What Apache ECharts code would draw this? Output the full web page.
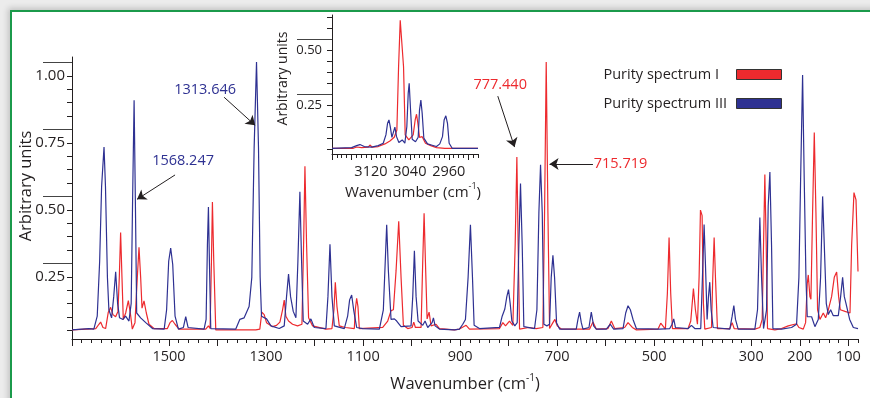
<!DOCTYPE html>
<html>
<head>
<meta charset="utf-8">
<script src="https://cdn.jsdelivr.net/npm/echarts@6/dist/echarts.min.js"></script>
<style>
  html, body { margin: 0; padding: 0; background: #ececec; }
  #frame {
    position: absolute; left: 10px; top: 10px; width: 900px; height: 420px;
    background: #fff; border-left: 2px solid #1b9a4b; border-top: 2px solid #1b9a4b;
    box-shadow: -2px -2px 6px rgba(0,0,0,0.18);
  }
  #main { position: absolute; left: 0; top: 0; width: 870px; height: 398px; }
</style>
</head>
<body>
<div id="frame"></div>
<div id="main"></div>
<script>
// 光谱数据 [波数, 强度]
var spectrumI = [
  [1700,0.052],[1651,0.057],[1644.5,0.073],[1641,0.081],[1636.2,0.061],[1630.7,0.057],[1625.2,0.118],[1620.4,0.136],
  [1615.6,0.109],[1610.1,0.101],[1605.3,0.121],[1602.5,0.248],[1599.8,0.415],[1597,0.248],[1594.3,0.091],[1589.4,0.115],
  [1583.9,0.161],[1579.8,0.115],[1575.7,0.055],[1570.2,0.079],[1565.4,0.248],[1561.9,0.360],[1558.5,0.248],[1555.7,0.133],
  [1551.6,0.160],[1546.8,0.115],[1541.3,0.073],[1531,0.057],[1503.4,0.057],[1498,0.079],[1493.1,0.087],[1487.6,0.073],
  [1479.4,0.055],[1424.3,0.055],[1418.8,0.067],[1415.4,0.057],[1412.6,0.308],[1410.6,0.529],[1407.8,0.308],[1403.7,0.052],
  [1321.1,0.052],[1312.9,0.055],[1308.7,0.118],[1303.9,0.109],[1299.1,0.079],[1286.7,0.064],[1278.4,0.069],[1271.5,0.081],
  [1266,0.127],[1262.6,0.163],[1259.2,0.103],[1253.7,0.085],[1245.4,0.073],[1235.1,0.067],[1226.1,0.073],[1222.7,0.369],
  [1219.9,0.662],[1216.5,0.369],[1212.4,0.097],[1204.1,0.067],[1176.6,0.055],[1164.2,0.057],[1160.1,0.127],[1157.3,0.230],
  [1153.9,0.139],[1149.1,0.067],[1143.6,0.064],[1136.7,0.061],[1118.1,0.057],[1116.1,0.127],[1113.3,0.170],[1110.6,0.139],
  [1107.8,0.057],[1059.6,0.061],[1049.3,0.085],[1042.4,0.124],[1037.6,0.127],[1032.1,0.272],[1026.6,0.457],[1021.8,0.248],
  [1017,0.069],[1008.1,0.057],[999.1,0.061],[995.6,0.081],[992.2,0.061],[980.5,0.061],[977.1,0.308],[974.3,0.487],
  [971.6,0.308],[968.1,0.093],[964,0.118],[959.9,0.067],[949.6,0.073],[942.7,0.057],[911.7,0.052],[901.5,0.055],
  [887.7,0.069],[880.8,0.055],[818.9,0.057],[812,0.079],[806.5,0.067],[798.3,0.085],[791.4,0.069],[786.6,0.369],
  [783.1,0.697],[780.4,0.369],[777.6,0.055],[758.4,0.061],[743.2,0.057],[729.5,0.061],[726,0.490],[722.6,1.051],
  [719.1,0.490],[715.7,0.057],[708.8,0.079],[704.7,0.091],[699.9,0.067],[691.6,0.055],[633.1,0.055],[626.3,0.081],
  [619.4,0.055],[595.3,0.057],[588.4,0.085],[581.5,0.057],[560.9,0.061],[554,0.079],[545.1,0.061],[536.8,0.052],
  [492.1,0.055],[486.6,0.077],[482.5,0.079],[477,0.055],[472.9,0.188],[469.4,0.397],[466,0.188],[462.5,0.057],
  [430.2,0.057],[424.7,0.085],[419.2,0.206],[415.1,0.127],[410.9,0.073],[407.5,0.248],[404.7,0.499],[401.3,0.478],
  [398.6,0.151],[395.8,0.055],[382,0.061],[379.3,0.248],[376.5,0.397],[373.8,0.248],[369.7,0.057],[344.2,0.057],
  [339.4,0.079],[335.3,0.057],[292.6,0.055],[282.3,0.061],[277.5,0.091],[274.7,0.369],[272,0.632],[269.2,0.369],
  [266.5,0.057],[251.3,0.052],[237.6,0.057],[223.8,0.067],[206.6,0.075],[201.8,0.061],[192.8,0.055],[188,0.079],
  [184.6,0.224],[182.5,0.257],[179.1,0.176],[177,0.166],[173.6,0.490],[170.1,0.788],[166.7,0.490],[163.3,0.127],
  [158.4,0.091],[151.6,0.115],[146.7,0.097],[141.2,0.127],[134.4,0.176],[128.9,0.248],[124.0,0.268],[119.9,0.176],
  [116.5,0.127],[106.8,0.121],[96.5,0.115],[93.1,0.369],[88.3,0.564],[84.1,0.537],[80,0.270]
];
var spectrumIII = [
  [1700,0.052],[1665,0.057],[1655,0.055],[1648,0.103],[1643,0.308],[1639,0.586],[1634,0.734],[1631,0.586],
  [1627,0.248],[1624,0.127],[1618.4,0.097],[1614,0.176],[1610,0.269],[1606,0.151],[1602,0.097],[1595,0.091],
  [1589.5,0.103],[1582.6,0.085],[1578,0.151],[1575,0.550],[1572,0.909],[1569.5,0.550],[1566.7,0.115],[1558.5,0.097],
  [1548,0.079],[1534,0.057],[1510,0.055],[1505,0.127],[1500.7,0.308],[1496.6,0.357],[1492.4,0.296],[1487.6,0.103],
  [1480.7,0.055],[1470.4,0.061],[1465.6,0.101],[1460.8,0.061],[1427.8,0.055],[1423.6,0.091],[1420.9,0.369],[1418.8,0.510],
  [1416.8,0.308],[1414,0.057],[1362.4,0.055],[1354.2,0.091],[1345.2,0.097],[1335,0.139],[1329.4,0.248],[1324.6,0.731],
  [1319.7,1.051],[1315.6,0.731],[1312.2,0.248],[1309.4,0.103],[1307.3,0.109],[1299,0.093],[1290,0.067],[1272.9,0.057],
  [1262.6,0.067],[1257.8,0.176],[1253.7,0.260],[1249.5,0.176],[1244,0.121],[1238.5,0.097],[1234.4,0.308],[1230.3,0.567],
  [1226.8,0.308],[1223.4,0.085],[1214.4,0.073],[1207.6,0.093],[1200.7,0.061],[1176.6,0.057],[1172.5,0.176],[1168.3,0.371],
  [1164.2,0.176],[1159.4,0.067],[1138.8,0.057],[1131.9,0.103],[1127.8,0.164],[1123.6,0.182],[1119.5,0.127],[1113.3,0.061],
  [1100.9,0.057],[1066.5,0.055],[1058.3,0.127],[1054.1,0.320],[1051.4,0.444],[1047.9,0.272],[1042.4,0.091],[1035.6,0.093],
  [1030.8,0.085],[1021.8,0.064],[1001.2,0.067],[997.7,0.176],[994.3,0.347],[990.8,0.176],[986.7,0.085],[977.1,0.069],
  [972.3,0.085],[966.8,0.061],[957.8,0.079],[955.1,0.097],[951.6,0.067],[942.7,0.055],[911.7,0.052],[901.5,0.055],
  [894.6,0.073],[889.1,0.091],[883.6,0.248],[878.8,0.444],[874.6,0.248],[871.2,0.069],[860.2,0.057],[818.9,0.061],
  [813.4,0.103],[807.9,0.130],[803.8,0.176],[800.3,0.202],[796.9,0.151],[793.4,0.085],[787.3,0.067],[782.4,0.079],
  [779,0.369],[775.6,0.598],[772.1,0.369],[768.7,0.064],[746.7,0.057],[741.8,0.127],[737.7,0.490],[734.3,0.668],
  [730.8,0.490],[727.4,0.073],[721.2,0.067],[715.7,0.073],[712.3,0.248],[708.8,0.330],[705.4,0.248],[701.3,0.079],
  [695.1,0.055],[660.7,0.055],[657.2,0.091],[653.8,0.118],[650.3,0.079],[646.9,0.055],[634.5,0.061],[629.7,0.118],
  [624.9,0.067],[619.4,0.055],[598.7,0.055],[590.5,0.073],[583.6,0.055],[564.3,0.057],[558.8,0.115],[554,0.142],
  [549.2,0.127],[543.7,0.091],[536.8,0.057],[488.7,0.055],[485.2,0.057],[468,0.057],[463.2,0.073],[459.8,0.093],
  [456.3,0.061],[430.2,0.057],[423.3,0.069],[416.4,0.057],[404.1,0.057],[400.6,0.248],[397.2,0.445],[394.4,0.296],
  [391,0.091],[388.2,0.176],[385.5,0.230],[382.7,0.127],[378.6,0.061],[344.2,0.055],[339.4,0.103],[335.9,0.143],
  [332.5,0.091],[327,0.055],[292.6,0.055],[287.1,0.127],[282.3,0.471],[278.8,0.248],[274.7,0.057],[268.5,0.127],
  [265.1,0.514],[261.6,0.641],[258.2,0.369],[255.4,0.057],[237.6,0.055],[216.9,0.061],[206.6,0.073],[201.8,0.248],
  [198.3,0.610],[194.2,1.003],[190.8,0.610],[187.3,0.248],[184.6,0.101],[175.6,0.101],[168.8,0.064],[161.9,0.091],
  [157.1,0.248],[152.9,0.550],[148.8,0.544],[145.4,0.151],[141.2,0.109],[136.4,0.127],[130.9,0.105],[120.6,0.105],
  [115.8,0.176],[111.7,0.248],[108.2,0.176],[104.8,0.151],[101.3,0.157],[97.2,0.091],[89.6,0.061],[80,0.057]
];
// 插图 (C-H 区域)
var insetI = [
  [3200,0.053],[3156.2,0.053],[3149.4,0.059],[3139.1,0.056],[3125.5,0.058],[3122.1,0.068],[3117.3,0.058],[3105,0.061],
  [3091.3,0.073],[3081,0.086],[3072.1,0.103],[3066.7,0.136],[3063.2,0.424],[3059.8,0.636],[3056.4,0.629],[3053,0.424],
  [3049.6,0.114],[3042.1,0.091],[3033.2,0.114],[3029.1,0.182],[3026.3,0.208],[3023.6,0.167],[3020.2,0.103],[3014.7,0.106],
  [3007.9,0.076],[2997,0.065],[2985.3,0.056],[2968.2,0.053],[2900,0.053]
];
var insetIII = [
  [3200,0.053],[3159.7,0.056],[3149.4,0.065],[3142.6,0.070],[3133.7,0.061],[3118.6,0.058],[3105,0.065],[3094.7,0.076],
  [3089.2,0.114],[3085.8,0.167],[3083,0.182],[3080.3,0.152],[3076.9,0.103],[3073.5,0.129],[3070.8,0.149],[3067.4,0.106],
  [3062.6,0.079],[3055.7,0.091],[3050.3,0.076],[3046.2,0.152],[3043.4,0.303],[3041.4,0.349],[3038.6,0.227],[3035.2,0.094],
  [3028.4,0.083],[3022.9,0.103],[3020.2,0.227],[3017.4,0.273],[3014.7,0.212],[3011.3,0.099],[3003.7,0.073],[2994.2,0.067],
  [2985.3,0.061],[2978.5,0.073],[2973,0.106],[2969.6,0.182],[2966.1,0.201],[2962.7,0.167],[2959.3,0.076],[2953.1,0.053],
  [2900,0.053]
];
// 刻度标签
var mainXLabels = [1500, 1300, 1100, 900, 700, 500, 300, 200, 100];
var mainYLabels = [0.25, 0.50, 0.75, 1.00];
var insetXLabels = [3120, 3040, 2960];
var insetYLabels = [0.25, 0.50];
// 标注: 文字位置, 箭头起点, 箭头终点
var notesIII = [
  { text: '1313.646', at: [1425.7, 0.949], from: [1386.5, 0.920], to: [1322.5, 0.815] },
  { text: '1568.247', at: [1471.1, 0.684], from: [1487.6, 0.630], to: [1566, 0.539] }
];
var notesI = [
  { text: '777.440', at: [817.5, 0.967], from: [822.4, 0.924], to: [787.9, 0.734] },
  { text: '715.719', at: [569.5, 0.671], from: [626.3, 0.671], to: [715.7, 0.671] }
];

var RED = '#ed2a2e', BLUE = '#2e3192', INK = '#231f20', FONT = 'Open Sans';

function range(a, b, step) {
  var out = [];
  for (var v = a; v <= b + 1e-9; v += step) out.push(+v.toFixed(3));
  return out;
}

function marks(notes, color) {
  return {
    markLine: {
      silent: true, symbol: ['none', 'arrow'], symbolSize: 9,
      lineStyle: { color: INK, width: 1, type: 'solid' },
      label: { show: false },
      data: notes.map(function (n) { return [{ coord: n.from }, { coord: n.to }]; })
    },
    markPoint: {
      silent: true, symbol: 'circle', symbolSize: 1,
      itemStyle: { color: 'rgba(0,0,0,0)' },
      label: { show: true, position: 'inside', color: color, fontSize: 14.5, fontFamily: FONT,
               formatter: function (p) { return p.name; } },
      data: notes.map(function (n) { return { name: n.text, coord: n.at }; })
    }
  };
}

function xAxisBase(grid, min, max) {
  return { type: 'value', gridIndex: grid, min: min, max: max, inverse: true, position: 'bottom',
           splitLine: { show: false } };
}
function plain(v) { return String(v); }
function fixed2(v) { return v.toFixed(2); }

var myChart = echarts.init(document.getElementById('main'));
var option = {
  animation: false,
  textStyle: { fontFamily: FONT },
  legend: {
    orient: 'vertical', right: 88, top: 67, align: 'right', padding: 0,
    icon: 'rect', itemWidth: 45, itemHeight: 10, itemGap: 14,
    itemStyle: { borderColor: '#333', borderWidth: 1 },
    formatter: '{t|{name}}',
    textStyle: { fontSize: 14.5, color: INK, fontFamily: FONT,
                 rich: { t: { width: 128, align: 'left', fontSize: 14.5, color: INK, fontFamily: FONT, lineHeight: 18 } } },
    data: ['Purity spectrum I', 'Purity spectrum III']
  },
  grid: [
    { left: 72, right: 12, top: 57, bottom: 51 },
    { left: 332, right: 392, top: 15, bottom: 244 }
  ],
  xAxis: [
    Object.assign(xAxisBase(0, 80, 1700), {
      axisLine: { lineStyle: { color: INK, width: 1 } },
      axisTick: { customValues: range(80, 1700, 20), length: 4, lineStyle: { color: INK } },
      axisLabel: { show: false }
    }),
    Object.assign(xAxisBase(0, 80, 1700), {
      axisLine: { show: false },
      axisTick: { customValues: range(100, 1700, 100), length: 7, lineStyle: { color: INK } },
      axisLabel: { customValues: mainXLabels, formatter: plain, margin: 10, fontSize: 14.5, color: INK, fontFamily: FONT },
      name: '{a|Wavenumber (cm}{s|-1}{a|)}', nameLocation: 'middle', nameGap: 34, nameMoveOverlap: false,
      nameTextStyle: { rich: {
        a: { fontSize: 16.5, color: INK, fontFamily: FONT, verticalAlign: 'bottom', lineHeight: 20 },
        s: { fontSize: 10, color: INK, fontFamily: FONT, verticalAlign: 'top', lineHeight: 20 }
      } }
    }),
    Object.assign(xAxisBase(1, 2900, 3200), {
      axisLine: { lineStyle: { color: INK, width: 1 } },
      axisTick: { customValues: range(2900, 3200, 10), length: 4, lineStyle: { color: INK } },
      axisLabel: { show: false }
    }),
    Object.assign(xAxisBase(1, 2900, 3200), {
      axisLine: { show: false },
      axisTick: { customValues: range(2920, 3200, 40), length: 6, lineStyle: { color: INK } },
      axisLabel: { customValues: insetXLabels, formatter: plain, margin: 10, fontSize: 14.5, color: INK, fontFamily: FONT },
      name: '{a|Wavenumber (cm}{s|-1}{a|)}', nameLocation: 'middle', nameGap: 28,
      nameTextStyle: { padding: [0, 0, 0, 16], rich: {
        a: { fontSize: 15, color: INK, fontFamily: FONT, verticalAlign: 'bottom', lineHeight: 18 },
        s: { fontSize: 9, color: INK, fontFamily: FONT, verticalAlign: 'top', lineHeight: 18 }
      } }
    })
  ],
  yAxis: [
    {
      type: 'value', gridIndex: 0, min: 0.018, max: 1.07, position: 'left',
      splitLine: { show: false },
      axisLine: { show: true, lineStyle: { color: INK, width: 1 } },
      axisTick: { show: true, customValues: range(0.05, 1.05, 0.05), length: 5, lineStyle: { color: INK } },
      axisLabel: { customValues: mainYLabels, formatter: fixed2, margin: 7, fontSize: 15, color: INK, fontFamily: FONT },
      name: 'Arbitrary units', nameLocation: 'middle', nameGap: 37, nameMoveOverlap: false,
      nameTextStyle: { fontSize: 16.5, color: INK, fontFamily: FONT, padding: [0, 0, 0, 24] }
    },
    {
      type: 'value', gridIndex: 0, min: 0.018, max: 1.07, position: 'left',
      splitLine: { show: false }, axisLine: { show: false }, axisLabel: { show: false },
      axisTick: { show: true, customValues: [0.30, 0.55, 0.80, 1.05], length: 29, lineStyle: { color: '#444' } }
    },
    {
      type: 'value', gridIndex: 1, min: 0.027, max: 0.66, position: 'left',
      splitLine: { show: false },
      axisLine: { show: true, lineStyle: { color: INK, width: 1 } },
      axisTick: { show: true, customValues: range(0.05, 0.65, 0.05), length: 5, lineStyle: { color: INK } },
      axisLabel: { customValues: insetYLabels, formatter: fixed2, margin: 10, fontSize: 13, color: INK, fontFamily: FONT },
      name: 'Arbitrary units', nameLocation: 'middle', nameGap: 42,
      nameTextStyle: { fontSize: 14, color: INK, fontFamily: FONT, padding: [0, 0, 0, 12] }
    },
    {
      type: 'value', gridIndex: 1, min: 0.027, max: 0.66, position: 'left',
      splitLine: { show: false }, axisLine: { show: false }, axisLabel: { show: false },
      axisTick: { show: true, customValues: [0.30, 0.55], length: 35, lineStyle: { color: '#444' } }
    }
  ],
  series: [
    Object.assign({
      name: 'Purity spectrum I', type: 'line', xAxisIndex: 0, yAxisIndex: 0, data: spectrumI,
      symbol: 'none', itemStyle: { color: RED }, lineStyle: { color: RED, width: 1.2 }
    }, marks(notesI, RED)),
    Object.assign({
      name: 'Purity spectrum III', type: 'line', xAxisIndex: 0, yAxisIndex: 0, data: spectrumIII,
      symbol: 'none', itemStyle: { color: BLUE }, lineStyle: { color: BLUE, width: 1.2 }
    }, marks(notesIII, BLUE)),
    {
      name: 'Purity spectrum I', type: 'line', xAxisIndex: 2, yAxisIndex: 2, data: insetI,
      symbol: 'none', itemStyle: { color: RED }, lineStyle: { color: RED, width: 1.2 }
    },
    {
      name: 'Purity spectrum III', type: 'line', xAxisIndex: 2, yAxisIndex: 2, data: insetIII,
      symbol: 'none', itemStyle: { color: BLUE }, lineStyle: { color: BLUE, width: 1.2 }
    }
  ]
};
myChart.setOption(option);
</script>
</body>
</html>
